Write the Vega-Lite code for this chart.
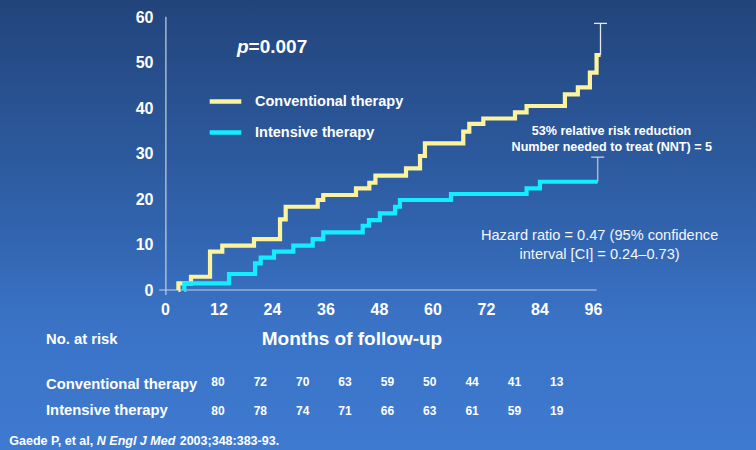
{
  "$schema": "https://vega.github.io/schema/vega-lite/v6.json",
  "width": 756,
  "height": 450,
  "autosize": {"type": "none"},
  "padding": 0,
  "background": "#3263ad",
  "config": {
    "view": {"stroke": null},
    "font": "Liberation Sans",
    "axis": {"zindex": 1, "domain": false, "ticks": false, "tickSize": 0, "grid": false, "labelColor": "#ffffff", "labelFont": "Liberation Sans", "labelFontSize": 16, "labelFontWeight": "bold", "labelOverlap": false, "labelFlush": false}
  },
  "datasets": {
    "curves": [
      {"group": "Conventional therapy", "month": 3.0, "risk": 0},
      {"group": "Conventional therapy", "month": 3.01, "risk": 1.47},
      {"group": "Conventional therapy", "month": 5.83, "risk": 2.92},
      {"group": "Conventional therapy", "month": 10.1, "risk": 8.42},
      {"group": "Conventional therapy", "month": 12.85, "risk": 9.74},
      {"group": "Conventional therapy", "month": 19.96, "risk": 11.2},
      {"group": "Conventional therapy", "month": 25.8, "risk": 15.54},
      {"group": "Conventional therapy", "month": 27.07, "risk": 18.3},
      {"group": "Conventional therapy", "month": 34.25, "risk": 19.78},
      {"group": "Conventional therapy", "month": 35.5, "risk": 20.88},
      {"group": "Conventional therapy", "month": 42.84, "risk": 22.35},
      {"group": "Conventional therapy", "month": 45.83, "risk": 23.58},
      {"group": "Conventional therapy", "month": 47.2, "risk": 25.16},
      {"group": "Conventional therapy", "month": 54.06, "risk": 26.75},
      {"group": "Conventional therapy", "month": 57.2, "risk": 29.45},
      {"group": "Conventional therapy", "month": 58.3, "risk": 32.24},
      {"group": "Conventional therapy", "month": 66.9, "risk": 34.8},
      {"group": "Conventional therapy", "month": 68.25, "risk": 36.5},
      {"group": "Conventional therapy", "month": 71.4, "risk": 37.7},
      {"group": "Conventional therapy", "month": 78.5, "risk": 39.05},
      {"group": "Conventional therapy", "month": 81.1, "risk": 40.44},
      {"group": "Conventional therapy", "month": 89.7, "risk": 43.0},
      {"group": "Conventional therapy", "month": 92.6, "risk": 44.55},
      {"group": "Conventional therapy", "month": 95.3, "risk": 47.76},
      {"group": "Conventional therapy", "month": 96.8, "risk": 51.65},
      {"group": "Conventional therapy", "month": 97.7, "risk": 51.65},
      {"group": "Intensive therapy", "month": 4.33, "risk": 0},
      {"group": "Intensive therapy", "month": 4.34, "risk": 1.47},
      {"group": "Intensive therapy", "month": 14.36, "risk": 3.52},
      {"group": "Intensive therapy", "month": 20.2, "risk": 5.87},
      {"group": "Intensive therapy", "month": 21.47, "risk": 7.1},
      {"group": "Intensive therapy", "month": 24.45, "risk": 8.42},
      {"group": "Intensive therapy", "month": 28.78, "risk": 9.74},
      {"group": "Intensive therapy", "month": 33.13, "risk": 11.2},
      {"group": "Intensive therapy", "month": 35.5, "risk": 12.68},
      {"group": "Intensive therapy", "month": 44.35, "risk": 14.13},
      {"group": "Intensive therapy", "month": 45.76, "risk": 15.38},
      {"group": "Intensive therapy", "month": 48.2, "risk": 16.86},
      {"group": "Intensive therapy", "month": 51.6, "risk": 18.3},
      {"group": "Intensive therapy", "month": 52.7, "risk": 19.78},
      {"group": "Intensive therapy", "month": 64.15, "risk": 21.1},
      {"group": "Intensive therapy", "month": 81.1, "risk": 22.35},
      {"group": "Intensive therapy", "month": 84.1, "risk": 23.8},
      {"group": "Intensive therapy", "month": 97.05, "risk": 23.8}
    ],
    "ci": [
      {"group": "Conventional therapy", "month": 97.68, "lo": 51.65, "hi": 58.6},
      {"group": "Intensive therapy", "month": 97.05, "lo": 23.8, "hi": 29.2}
    ],
    "atrisk": [
      {"group": "Conventional therapy", "month": 0, "n": 80},
      {"group": "Conventional therapy", "month": 12, "n": 72},
      {"group": "Conventional therapy", "month": 24, "n": 70},
      {"group": "Conventional therapy", "month": 36, "n": 63},
      {"group": "Conventional therapy", "month": 48, "n": 59},
      {"group": "Conventional therapy", "month": 60, "n": 50},
      {"group": "Conventional therapy", "month": 72, "n": 44},
      {"group": "Conventional therapy", "month": 84, "n": 41},
      {"group": "Conventional therapy", "month": 96, "n": 13},
      {"group": "Intensive therapy", "month": 0, "n": 80},
      {"group": "Intensive therapy", "month": 12, "n": 78},
      {"group": "Intensive therapy", "month": 24, "n": 74},
      {"group": "Intensive therapy", "month": 36, "n": 71},
      {"group": "Intensive therapy", "month": 48, "n": 66},
      {"group": "Intensive therapy", "month": 60, "n": 63},
      {"group": "Intensive therapy", "month": 72, "n": 61},
      {"group": "Intensive therapy", "month": 84, "n": 59},
      {"group": "Intensive therapy", "month": 96, "n": 19}
    ]
  },
  "data": {"values": [{}]},
  "layer": [
    {
      "layer": [
        {
          "mark": {"type": "rect", "fill": {"gradient": "linear", "x1": 0, "y1": 0, "x2": 0, "y2": 1, "stops": [{"offset": 0, "color": "#22447b"}, {"offset": 0.5, "color": "#3163ad"}, {"offset": 0.72, "color": "#3a73c6"}, {"offset": 1, "color": "#3e7ad0"}]}},
          "encoding": {}
        },
        {
          "mark": {"type": "rule", "color": "#c9d0dd", "strokeWidth": 1.2},
          "encoding": {
            "x": {"datum": -1.3, "type": "quantitative", "scale": {"domain": [-37.01, 132.56], "nice": false, "zero": false}},
            "x2": {"datum": 96.8},
            "y": {"datum": 0, "type": "quantitative", "scale": {"domain": [-35.16, 63.74], "nice": false, "zero": false}}
          }
        },
        {
          "mark": {"type": "rule", "color": "#c9d0dd", "strokeWidth": 1.2},
          "encoding": {
            "x": {"datum": 0.2, "type": "quantitative", "scale": {"domain": [-37.01, 132.56], "nice": false, "zero": false}},
            "y": {"datum": -1.1, "type": "quantitative", "scale": {"domain": [-35.16, 63.74], "nice": false, "zero": false}},
            "y2": {"datum": 60.07}
          }
        },
        {
          "data": {"name": "curves"},
          "mark": {"type": "line", "interpolate": "step-after", "strokeWidth": 4.2, "strokeJoin": "miter", "strokeCap": "butt"},
          "encoding": {
            "x": {"field": "month", "type": "quantitative", "scale": {"domain": [-37.01, 132.56], "nice": false, "zero": false},
                  "axis": {"values": [0, 12, 24, 36, 48, 60, 72, 84, 96], "offset": -160, "labelPadding": 11, "title": null, "zindex": 1}},
            "y": {"field": "risk", "type": "quantitative", "scale": {"domain": [-35.16, 63.74], "nice": false, "zero": false},
                  "axis": {"values": [0, 10, 20, 30, 40, 50, 60], "offset": -165, "labelPadding": 12, "title": null, "zindex": 1}},
            "color": {"field": "group", "type": "nominal",
                      "scale": {"domain": ["Conventional therapy", "Intensive therapy"], "range": ["#fcf39c", "#12eefd"]},
                      "legend": {"orient": "none", "legendX": 207, "legendY": 83, "title": null, "padding": 0, "symbolType": "stroke", "symbolSize": 1000, "symbolStrokeWidth": 4.5, "labelFont": "Liberation Sans", "labelFontSize": 14.5, "labelFontWeight": "bold", "labelColor": "#ffffff", "labelOffset": 11, "rowPadding": 3, "labelLimit": 300}}
          }
        },
        {
          "data": {"name": "ci"},
          "transform": [{"filter": "datum.group === 'Conventional therapy'"}],
          "mark": {"type": "rule", "color": "#e4e8f0", "strokeWidth": 1.3},
          "encoding": {
            "x": {"field": "month", "type": "quantitative", "scale": {"domain": [-37.01, 132.56], "nice": false, "zero": false}},
            "y": {"field": "lo", "type": "quantitative", "scale": {"domain": [-35.16, 63.74], "nice": false, "zero": false}},
            "y2": {"field": "hi"}
          }
        },
        {
          "data": {"name": "ci"},
          "transform": [{"filter": "datum.group === 'Conventional therapy'"}],
          "mark": {"type": "tick", "orient": "horizontal", "size": 13, "thickness": 1.3, "color": "#e4e8f0", "opacity": 1},
          "encoding": {
            "x": {"field": "month", "type": "quantitative", "scale": {"domain": [-37.01, 132.56], "nice": false, "zero": false}},
            "y": {"field": "hi", "type": "quantitative", "scale": {"domain": [-35.16, 63.74], "nice": false, "zero": false}}
          }
        },
        {
          "data": {"name": "ci"},
          "transform": [{"filter": "datum.group === 'Intensive therapy'"}],
          "mark": {"type": "rule", "color": "#aab6ca", "strokeWidth": 1.5},
          "encoding": {
            "x": {"field": "month", "type": "quantitative", "scale": {"domain": [-37.01, 132.56], "nice": false, "zero": false}},
            "y": {"field": "lo", "type": "quantitative", "scale": {"domain": [-35.16, 63.74], "nice": false, "zero": false}},
            "y2": {"field": "hi"}
          }
        },
        {
          "data": {"name": "ci"},
          "transform": [{"filter": "datum.group === 'Intensive therapy'"}],
          "mark": {"type": "tick", "orient": "horizontal", "size": 13, "thickness": 1.3, "color": "#c4ccda", "opacity": 1},
          "encoding": {
            "x": {"field": "month", "type": "quantitative", "scale": {"domain": [-37.01, 132.56], "nice": false, "zero": false}},
            "y": {"field": "hi", "type": "quantitative", "scale": {"domain": [-35.16, 63.74], "nice": false, "zero": false}}
          }
        },
        {
          "mark": {"type": "text", "text": "p", "align": "left", "baseline": "middle", "fontSize": 19, "fontWeight": "bold", "fontStyle": "italic", "color": "#ffffff"},
          "encoding": {
            "x": {"datum": 16.15, "type": "quantitative", "scale": {"domain": [-37.01, 132.56], "nice": false, "zero": false}},
            "y": {"datum": 53.47, "type": "quantitative", "scale": {"domain": [-35.16, 63.74], "nice": false, "zero": false}}
          }
        },
        {
          "mark": {"type": "text", "text": "=0.007", "align": "left", "baseline": "middle", "fontSize": 19, "fontWeight": "bold", "color": "#ffffff"},
          "encoding": {
            "x": {"datum": 18.75, "type": "quantitative", "scale": {"domain": [-37.01, 132.56], "nice": false, "zero": false}},
            "y": {"datum": 53.47, "type": "quantitative", "scale": {"domain": [-35.16, 63.74], "nice": false, "zero": false}}
          }
        },
        {
          "mark": {"type": "text", "text": "53% relative risk reduction", "align": "center", "baseline": "middle", "fontSize": 12.6, "fontWeight": "bold", "color": "#ffffff"},
          "encoding": {
            "x": {"datum": 100.15, "type": "quantitative", "scale": {"domain": [-37.01, 132.56], "nice": false, "zero": false}},
            "y": {"datum": 35.01, "type": "quantitative", "scale": {"domain": [-35.16, 63.74], "nice": false, "zero": false}}
          }
        },
        {
          "mark": {"type": "text", "text": "Number needed to treat (NNT) = 5", "align": "center", "baseline": "middle", "fontSize": 12.6, "fontWeight": "bold", "color": "#ffffff"},
          "encoding": {
            "x": {"datum": 100.22, "type": "quantitative", "scale": {"domain": [-37.01, 132.56], "nice": false, "zero": false}},
            "y": {"datum": 31.49, "type": "quantitative", "scale": {"domain": [-35.16, 63.74], "nice": false, "zero": false}}
          }
        },
        {
          "mark": {"type": "text", "text": "Hazard ratio = 0.47 (95% confidence", "align": "center", "baseline": "middle", "fontSize": 14.6, "color": "#f4f6fa"},
          "encoding": {
            "x": {"datum": 97.48, "type": "quantitative", "scale": {"domain": [-37.01, 132.56], "nice": false, "zero": false}},
            "y": {"datum": 11.87, "type": "quantitative", "scale": {"domain": [-35.16, 63.74], "nice": false, "zero": false}}
          }
        },
        {
          "mark": {"type": "text", "text": "interval [CI] = 0.24–0.73)", "align": "center", "baseline": "middle", "fontSize": 14.6, "color": "#f4f6fa"},
          "encoding": {
            "x": {"datum": 97.48, "type": "quantitative", "scale": {"domain": [-37.01, 132.56], "nice": false, "zero": false}},
            "y": {"datum": 7.69, "type": "quantitative", "scale": {"domain": [-35.16, 63.74], "nice": false, "zero": false}}
          }
        },
        {
          "mark": {"type": "text", "text": "Months of follow-up", "align": "center", "baseline": "middle", "fontSize": 19, "fontWeight": "bold", "color": "#ffffff"},
          "encoding": {
            "x": {"datum": 41.94, "type": "quantitative", "scale": {"domain": [-37.01, 132.56], "nice": false, "zero": false}},
            "y": {"datum": -10.77, "type": "quantitative", "scale": {"domain": [-35.16, 63.74], "nice": false, "zero": false}}
          }
        },
        {
          "mark": {"type": "text", "text": "No. at risk", "align": "left", "baseline": "middle", "fontSize": 14.8, "fontWeight": "bold", "color": "#ffffff"},
          "encoding": {
            "x": {"datum": -26.69, "type": "quantitative", "scale": {"domain": [-37.01, 132.56], "nice": false, "zero": false}},
            "y": {"datum": -10.99, "type": "quantitative", "scale": {"domain": [-35.16, 63.74], "nice": false, "zero": false}}
          }
        },
        {
          "mark": {"type": "text", "text": "Conventional therapy", "align": "left", "baseline": "middle", "fontSize": 14.8, "fontWeight": "bold", "color": "#ffffff"},
          "encoding": {
            "x": {"datum": -26.69, "type": "quantitative", "scale": {"domain": [-37.01, 132.56], "nice": false, "zero": false}},
            "y": {"datum": -20.88, "type": "quantitative", "scale": {"domain": [-35.16, 63.74], "nice": false, "zero": false}}
          }
        },
        {
          "mark": {"type": "text", "text": "Intensive therapy", "align": "left", "baseline": "middle", "fontSize": 14.8, "fontWeight": "bold", "color": "#ffffff"},
          "encoding": {
            "x": {"datum": -26.69, "type": "quantitative", "scale": {"domain": [-37.01, 132.56], "nice": false, "zero": false}},
            "y": {"datum": -26.59, "type": "quantitative", "scale": {"domain": [-35.16, 63.74], "nice": false, "zero": false}}
          }
        },
        {
          "mark": {"type": "text", "text": "Gaede P, et al,", "align": "left", "baseline": "middle", "fontSize": 12.5, "fontWeight": "bold", "color": "#ffffff"},
          "encoding": {
            "x": {"datum": -34.92, "type": "quantitative", "scale": {"domain": [-37.01, 132.56], "nice": false, "zero": false}},
            "y": {"datum": -33.12, "type": "quantitative", "scale": {"domain": [-35.16, 63.74], "nice": false, "zero": false}}
          }
        },
        {
          "mark": {"type": "text", "text": "N Engl J Med", "align": "left", "baseline": "middle", "fontSize": 12.5, "fontWeight": "bold", "fontStyle": "italic", "color": "#ffffff"},
          "encoding": {
            "x": {"datum": -15.3, "type": "quantitative", "scale": {"domain": [-37.01, 132.56], "nice": false, "zero": false}},
            "y": {"datum": -33.12, "type": "quantitative", "scale": {"domain": [-35.16, 63.74], "nice": false, "zero": false}}
          }
        },
        {
          "mark": {"type": "text", "text": "2003;348:383-93.", "align": "left", "baseline": "middle", "fontSize": 12.5, "fontWeight": "bold", "color": "#ffffff"},
          "encoding": {
            "x": {"datum": 3.3, "type": "quantitative", "scale": {"domain": [-37.01, 132.56], "nice": false, "zero": false}},
            "y": {"datum": -33.12, "type": "quantitative", "scale": {"domain": [-35.16, 63.74], "nice": false, "zero": false}}
          }
        }
      ]
    },
    {
      "data": {"name": "atrisk"},
      "layer": [
        {
          "transform": [{"filter": "datum.group === 'Conventional therapy'"}],
          "mark": {"type": "text", "align": "center", "baseline": "middle", "fontSize": 12, "fontWeight": "bold", "color": "#ffffff"},
          "encoding": {
            "x": {"field": "month", "type": "quantitative", "scale": {"domain": [-61.77, 152.45], "nice": false, "zero": false}, "axis": null},
            "y": {"datum": -20.2, "type": "quantitative", "scale": {"domain": [-35.16, 63.74], "nice": false, "zero": false}},
            "text": {"field": "n", "type": "quantitative"}
          }
        },
        {
          "transform": [{"filter": "datum.group === 'Intensive therapy'"}],
          "mark": {"type": "text", "align": "center", "baseline": "middle", "fontSize": 12, "fontWeight": "bold", "color": "#ffffff"},
          "encoding": {
            "x": {"field": "month", "type": "quantitative", "scale": {"domain": [-61.77, 152.45], "nice": false, "zero": false}, "axis": null},
            "y": {"datum": -26.59, "type": "quantitative", "scale": {"domain": [-35.16, 63.74], "nice": false, "zero": false}},
            "text": {"field": "n", "type": "quantitative"}
          }
        }
      ]
    }
  ],
  "resolve": {"scale": {"x": "independent"}}
}
